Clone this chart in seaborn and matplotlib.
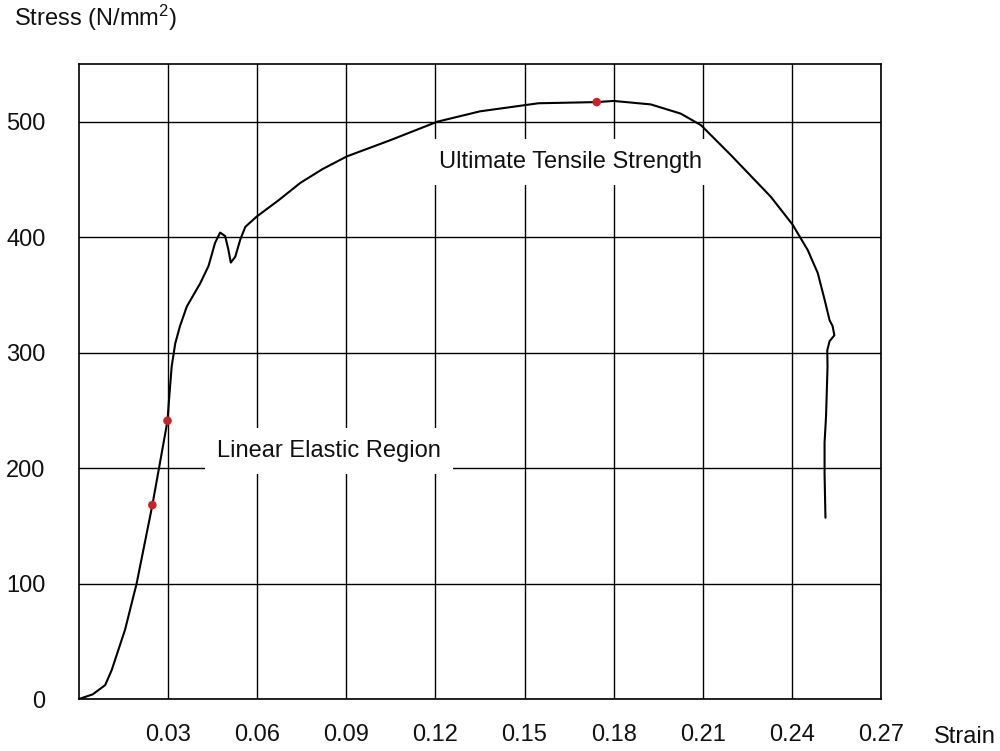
import matplotlib
matplotlib.use("Agg")
import matplotlib.pyplot as plt
import seaborn as sns
import pandas as pd

# ---- data ----
strain = [0, 0.0046, 0.0088, 0.011, 0.0155, 0.0194, 0.0247, 0.0298, 0.0303, 0.0312,
          0.0324, 0.034, 0.0363, 0.0408, 0.0436, 0.0458, 0.0475, 0.0492, 0.0503, 0.0511,
          0.0526, 0.0543, 0.056, 0.0599, 0.0672, 0.0745, 0.082, 0.0902, 0.1048, 0.1206,
          0.135, 0.1547, 0.1743, 0.18, 0.1925, 0.2026, 0.2094, 0.2195, 0.2329, 0.2402,
          0.2453, 0.2487, 0.251, 0.2527, 0.2537, 0.2543, 0.2527, 0.2519, 0.252, 0.2515,
          0.251, 0.251, 0.2513]
stress = [0, 4, 12, 25, 60, 100, 168, 241, 259, 288,
          308, 323, 340, 360, 375, 395, 404, 401, 389, 378,
          383, 398, 409, 418, 432, 447, 459, 470, 484, 500,
          509, 516, 517, 518, 515, 507, 497, 471, 435, 411,
          389, 369, 346, 328, 323, 315, 310, 302, 288, 245,
          222, 195, 157]

point_strain = [0.0247, 0.0298, 0.1743]
point_stress = [168, 241, 517]

x_ticks = [0.03, 0.06, 0.09, 0.12, 0.15, 0.18, 0.21, 0.24, 0.27]
x_tick_labels = ["0.03", "0.06", "0.09", "0.12", "0.15", "0.18", "0.21", "0.24", "0.27"]
y_ticks = [0, 100, 200, 300, 400, 500]
y_tick_labels = ["0", "100", "200", "300", "400", "500"]

annotations = ["Linear Elastic Region", "Ultimate Tensile Strength"]
annot_x = [0.0841, 0.1653]
annot_y = [215, 465]

# ---- style ----
sns.set_style("white")
plt.rcParams["font.family"] = ["Liberation Sans", "DejaVu Sans"]
plt.rcParams["mathtext.fontset"] = "custom"
plt.rcParams["mathtext.rm"] = "Liberation Sans"
plt.rcParams["mathtext.default"] = "regular"

FS = 17
TXT = "#111111"

fig = plt.figure(figsize=(10, 7.51), dpi=100)
ax = fig.add_axes([0.079, 1 - 699 / 751, 0.802, (699 - 64) / 751])

curve = pd.DataFrame({"strain": strain, "stress": stress})
pts = pd.DataFrame({"strain": point_strain, "stress": point_stress})

sns.lineplot(data=curve, x="strain", y="stress", sort=False, estimator=None,
             color="black", linewidth=1.5, ax=ax, zorder=3)
sns.scatterplot(data=pts, x="strain", y="stress", color="#cc2127", s=38,
                edgecolor="none", ax=ax, zorder=4)

ax.set_xlim(0, 0.27)
ax.set_ylim(0, 550)
ax.set_xticks(x_ticks)
ax.set_xticklabels(x_tick_labels)
ax.set_yticks(y_ticks)
ax.set_yticklabels(y_tick_labels)
ax.tick_params(axis="both", length=0, labelsize=FS, colors=TXT)
ax.tick_params(axis="x", pad=18)
ax.tick_params(axis="y", pad=24)
ax.set_xlabel("")
ax.set_ylabel("")

ax.grid(True, color="black", linewidth=1.0)
ax.set_axisbelow(True)
for sp in ax.spines.values():
    sp.set_color("black")
    sp.set_linewidth(1.2)
    sp.set_zorder(5)

for txt, tx, ty in zip(annotations, annot_x, annot_y):
    ax.text(tx, ty, txt, ha="center", va="center", fontsize=FS, color=TXT,
            zorder=2.5,
            bbox=dict(boxstyle="square,pad=0.5", facecolor="white", edgecolor="none"))

fig.text(0.014, 1 - 18 / 751, "Stress (N/mm$^{2}$)", ha="left", va="center",
         fontsize=FS, color=TXT)
fig.text(0.934, 1 - 737 / 751, "Strain", ha="left", va="center",
         fontsize=FS, color=TXT)

fig.savefig("out.png", dpi=100, facecolor="white")
